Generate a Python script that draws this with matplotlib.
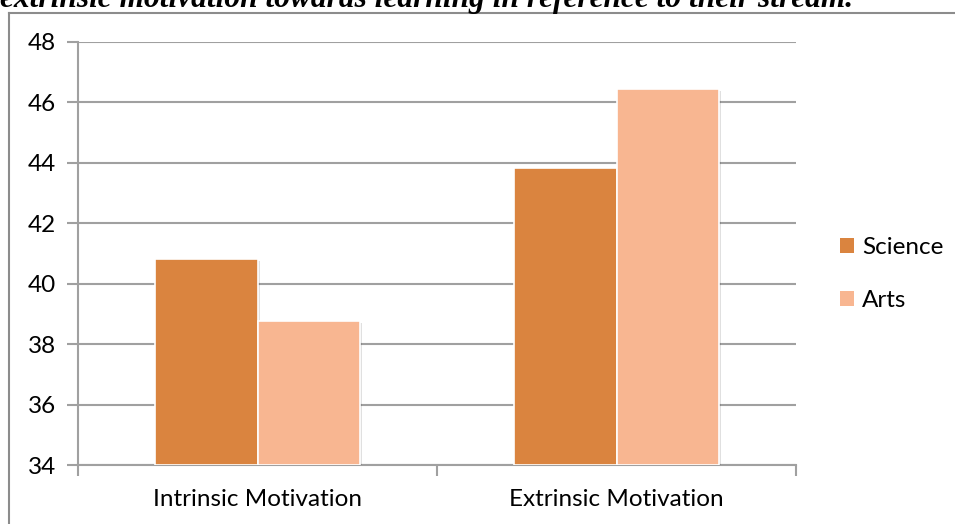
import matplotlib
matplotlib.use("Agg")
import matplotlib.pyplot as plt
from matplotlib.lines import Line2D
from matplotlib.patches import Patch
import matplotlib.patheffects as pe
import numpy as np

categories = ["Intrinsic Motivation", "Extrinsic Motivation"]
series_names = ["Science", "Arts"]
science = [40.82, 43.83]
arts = [38.77, 46.45]
y_ticks = [34, 36, 38, 40, 42, 44, 46, 48]
title = "extrinsic motivation towards learning in reference to their stream."

colors = ["#DA843F", "#F8B691"]
grid_color = "#A0A0A0"

plt.rcParams["font.family"] = ["Lato", "DejaVu Sans"]

W, H = 955, 524
fig = plt.figure(figsize=(W / 100, H / 100), dpi=100)
ax = fig.add_axes([78 / W, 1 - 465 / H, (796 - 78) / W, (465 - 42) / H])

x = np.arange(len(categories))
bw = 0.285
shadow = [pe.SimplePatchShadow(offset=(1.5, -1.5), shadow_rgbFace="#000000", alpha=0.12), pe.Normal()]
for i, (vals, c) in enumerate(zip([science, arts], colors)):
    offs = (i - 0.5) * bw
    bars = ax.bar(x + offs, np.array(vals) - y_ticks[0], bottom=y_ticks[0], width=bw,
                  color=c, edgecolor="white", linewidth=1.2, zorder=3)
    for b in bars:
        b.set_path_effects(shadow)

ax.set_xlim(-0.5, len(categories) - 0.5)
ax.set_ylim(y_ticks[0], y_ticks[-1])
ax.set_yticks(y_ticks)
ax.yaxis.grid(True, color=grid_color, linewidth=1.5, zorder=0)
ax.set_axisbelow(True)

fs = 17.5
ax.set_xticks(x)
ax.set_xticklabels(categories, fontsize=fs)
ax.set_xticks(np.arange(-0.5, len(categories)), minor=True)
ax.tick_params(axis="x", which="major", length=0, pad=17)
ax.tick_params(axis="x", which="minor", length=8, width=1.5, color=grid_color)
ax.tick_params(axis="y", length=8, width=1.5, color=grid_color, labelsize=fs, pad=8)

for s in ["top", "right"]:
    ax.spines[s].set_visible(False)
for s in ["left", "bottom"]:
    ax.spines[s].set_color(grid_color)
    ax.spines[s].set_linewidth(1.5)

handles = [Patch(facecolor=c, edgecolor="none") for c in colors]
fig.legend(handles, series_names, loc="center left", bbox_to_anchor=(818 / W, 1 - 274 / H),
           frameon=False, fontsize=fs, handlelength=0.6, handleheight=0.6,
           handletextpad=0.3, labelspacing=1.3)

# outer frame
fig.add_artist(Line2D([8.5 / W, 8.5 / W], [1 - 12.5 / H, 0], transform=fig.transFigure,
                      color="#8C8C8C", linewidth=1.5))
fig.add_artist(Line2D([8.5 / W, 1], [1 - 12.5 / H, 1 - 12.5 / H], transform=fig.transFigure,
                      color="#8C8C8C", linewidth=1.5))

fig.text(0, 1 - 6.5 / H, title, family="Liberation Serif", style="italic",
         weight="bold", fontsize=22.6, ha="left", va="baseline")

fig.savefig("out.png", dpi=100)
